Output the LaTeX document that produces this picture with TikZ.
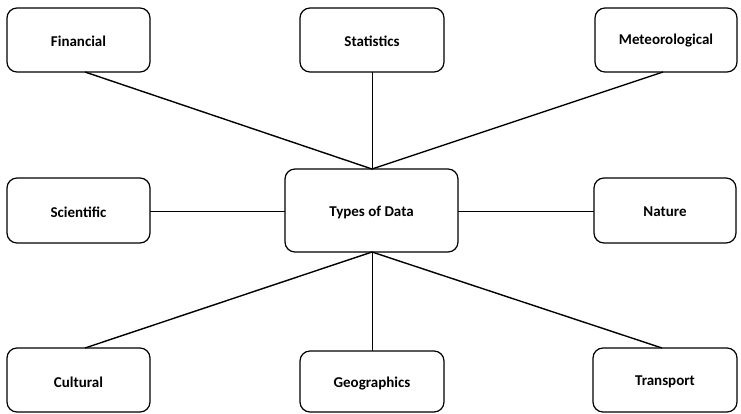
\documentclass[tikz,border=0pt]{standalone}
\usepackage{fontspec}
\setmainfont{Carlito}
\begin{document}
\begin{tikzpicture}[x=1pt,y=-1pt,
  box/.style={draw=black, line width=1.2pt, rounded corners=10pt, fill=white},
  lbl/.style={font=\bfseries\fontsize{15}{17}\selectfont},
  conn/.style={draw=black, line width=1.4pt},
  thinconn/.style={draw=black, line width=0.9pt}]
\useasboundingbox (0,0) rectangle (741,413);
% boxes
\draw[box] (7,8) rectangle (150,72);
\draw[box] (300,8) rectangle (444,72);
\draw[box] (595,8) rectangle (737,72);
\draw[box] (7,178) rectangle (150,243);
\draw[box] (285,169) rectangle (458,252);
\draw[box] (594,178) rectangle (736,243);
\draw[box] (7,348) rectangle (150,412);
\draw[box] (300,351) rectangle (444,412);
\draw[box] (593,348) rectangle (737,412);
% labels
\node[lbl] (fin) at (78.5,41) {Financial};
\node[lbl] (sta) at (372,41) {Statistics};
\node[lbl] (met) at (666,41) {Meteorological};
\node[lbl] (sci) at (78.5,212) {Scientific};
\node[lbl] (tod) at (371.5,212) {Types of Data};
\node[lbl] (nat) at (665,212) {Nature};
\node[lbl] (cul) at (78.5,382) {Cultural};
\node[lbl] (geo) at (372,383) {Geographics};
\node[lbl] (tra) at (665,382) {Transport};
% anchor coordinates
\coordinate (finB) at (85,72);
\coordinate (staB) at (372,72);
\coordinate (metB) at (663,72);
\coordinate (todT) at (372,169);
\coordinate (todB) at (372,252);
\coordinate (todL) at (285,211);
\coordinate (todR) at (458,211);
\coordinate (sciR) at (150,211);
\coordinate (natL) at (594,211);
\coordinate (culT) at (85,348);
\coordinate (geoT) at (372,351);
\coordinate (traT) at (662,348);
% connectors
\draw[conn] (finB) -- (todT);
\draw[thinconn] (staB) -- (todT);
\draw[conn] (metB) -- (todT);
\draw[thinconn] (sciR) -- (todL);
\draw[thinconn] (todR) -- (natL);
\draw[conn] (todB) -- (culT);
\draw[thinconn] (todB) -- (geoT);
\draw[conn] (todB) -- (traT);
\end{tikzpicture}
\end{document}
